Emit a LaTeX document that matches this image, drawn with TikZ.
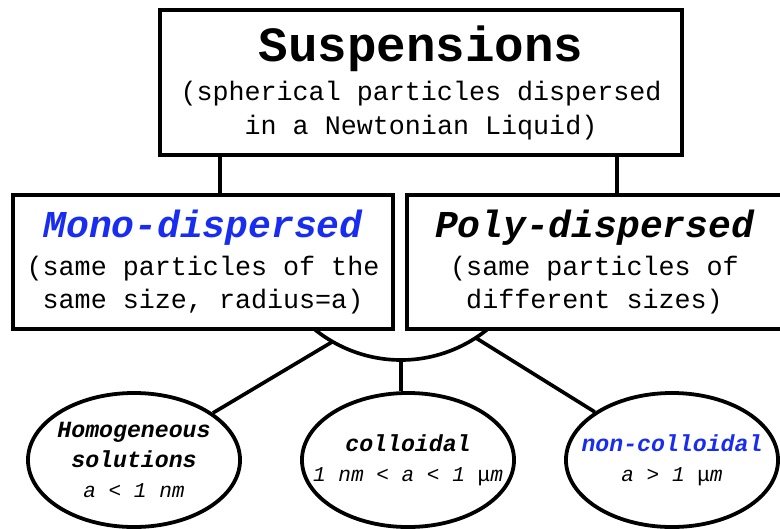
\documentclass[tikz,border=0pt]{standalone}
\usepackage{fontspec}
\setmonofont{Liberation Mono}
\usetikzlibrary{shapes.geometric}
\definecolor{monoblue}{RGB}{25,45,240}
\begin{document}
\begin{tikzpicture}[x=0.025cm, y=-0.025cm]
    % Define styles for boxes, ellipses and lines
    \tikzstyle{classbox} = [rectangle, draw=black, line width=2.7pt, fill=white, inner sep=0pt, align=center, font=\ttfamily\fontsize{19}{24}\selectfont]
    \tikzstyle{typebox} = [classbox, minimum height=3.35cm]
    \tikzstyle{sizeclass} = [ellipse, draw=black, line width=2.7pt, fill=white, inner xsep=-15pt, inner ysep=0pt, minimum width=5.3cm, minimum height=3.35cm, align=center, font=\ttfamily\itshape\fontsize{15}{21.3}\selectfont]
    \tikzstyle{joinline} = [line width=2.6pt, draw=black]
    \useasboundingbox (0,0) rectangle (780,528);
    % Arc below the two boxes
    \coordinate (hub) at (401,360);
    \coordinate (hubL) at (332,342);
    \coordinate (hubR) at (476,338);
    \draw [joinline] (hub) arc [start angle=270, end angle=225, radius=3.425cm];
    \draw [joinline] (hub) arc [start angle=270, end angle=315, radius=3.425cm];
    % Nodes
    \node (susp) [classbox, minimum width=13.05cm, minimum height=3.625cm] at (421,82.5)
        {{\fontsize{35}{40}\selectfont\bfseries Suspensions}\\[4pt] (spherical particles dispersed\\ in a Newtonian Liquid)};
    \node (mono) [typebox, minimum width=9.5cm] at (203,262)
        {{\color{monoblue}\fontsize{27}{30}\selectfont\bfseries\itshape Mono-dispersed}\\[3pt] (same particles of the\\ same size, radius=a)};
    \node (poly) [typebox, minimum width=9.375cm] at (594.5,262)
        {{\fontsize{27}{30}\selectfont\bfseries\itshape Poly-dispersed}\\[3pt] (same particles of\\ different sizes)};
    \node (homog) [sizeclass] at (134,460)
        {{\fontsize{16.5}{21.3}\selectfont\bfseries Homogeneous}\\ {\fontsize{16.5}{21.3}\selectfont\bfseries solutions}\\ a < 1 nm};
    \node (colloid) [sizeclass] at (408,460)
        {{\fontsize{16.5}{21.3}\selectfont\bfseries colloidal}\\ 1 nm < a < 1 \textup{μ}m};
    \node (noncolloid) [sizeclass] at (672,460)
        {{\color{monoblue}\fontsize{16.5}{21.3}\selectfont\bfseries non-colloidal}\\ a > 1 \textup{μ}m};
    % Lines (connections)
    \draw [joinline] ([xshift=-5.025cm]susp.south) -- ([xshift=0.425cm]mono.north);
    \draw [joinline] ([xshift=4.9cm]susp.south) -- ([xshift=0.5625cm]poly.north);
    \draw [joinline] (hubL) -- (homog);
    \draw [joinline] (hub) -- (hub |- colloid.north);
    \draw [joinline] (hubR) -- (noncolloid);
\end{tikzpicture}
\end{document}
